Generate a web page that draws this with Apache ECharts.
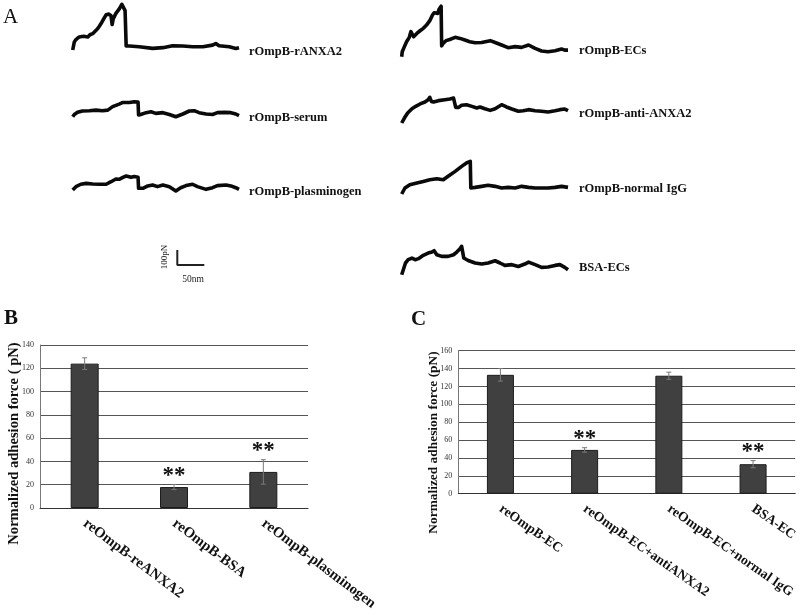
<!DOCTYPE html>
<html>
<head>
<meta charset="utf-8">
<script src="https://cdn.jsdelivr.net/npm/echarts@6/dist/echarts.min.js"></script>
<style>
html,body{margin:0;padding:0;background:#fff;}
#chart{width:800px;height:615px;}
</style>
</head>
<body>
<div id="chart"></div>
<script>
// ---------- Panel A : force curves (x in nm, y in pN) ----------
const traceNames = ['rOmpB-rANXA2','rOmpB-serum','rOmpB-plasminogen','rOmpB-ECs','rOmpB-anti-ANXA2','rOmpB-normal IgG','BSA-ECs'];
const traceRANXA2 = [[0,0],[3,55],[6,71],[12,89],[15,100],[20,93],[23,102],[28,89],[32,104],[37,111],[42,129],[46,144],[49,160],[54,189],[59,222],[62,240],[67,244],[71,233],[73,173],[75,211],[80,249],[83,240],[86,278],[91,311],[94,306],[97,268],[99,27],[105,27],[123,22],[148,11],[167,16],[185,29],[204,27],[222,22],[241,22],[259,33],[265,44],[271,29],[290,22],[302,11],[308,16]];
const traceSerum = [[0,0],[3,15],[9,29],[18,38],[31,40],[43,44],[55,40],[65,44],[74,67],[86,84],[93,95],[105,95],[114,100],[121,98],[122,11],[126,15],[136,27],[145,33],[154,22],[167,27],[179,15],[191,0],[204,18],[216,38],[225,40],[234,27],[247,18],[259,15],[268,27],[281,29],[293,27],[302,18],[308,7]];
const tracePlasminogen = [[0,7],[6,29],[15,45],[25,51],[37,47],[49,45],[62,45],[71,62],[80,80],[86,78],[93,91],[99,100],[108,91],[114,96],[121,91],[122,18],[130,18],[139,34],[148,40],[157,29],[167,40],[179,29],[191,0],[200,22],[210,36],[222,45],[231,29],[247,11],[259,22],[268,36],[284,40],[293,34],[302,22],[308,11]];
const traceECs = [[0,0],[1,33],[5,67],[9,100],[14,129],[17,167],[20,173],[22,133],[28,155],[34,173],[40,189],[46,211],[52,240],[57,278],[60,293],[63,306],[67,289],[69,315],[73,337],[74,72],[77,89],[82,107],[89,115],[99,129],[108,122],[117,111],[126,100],[136,93],[148,95],[164,107],[173,95],[185,78],[197,60],[210,67],[222,62],[235,78],[247,55],[259,38],[271,33],[284,40],[296,51],[302,44],[308,44]];
const traceAntiANXA2 = [[0,0],[5,33],[11,67],[19,95],[26,111],[34,127],[43,140],[49,155],[52,171],[55,144],[59,140],[68,149],[80,155],[89,160],[96,166],[99,164],[100,104],[105,104],[111,118],[120,122],[130,111],[139,100],[145,107],[154,95],[164,84],[173,95],[185,122],[194,107],[204,93],[216,78],[225,82],[235,89],[247,82],[259,78],[271,73],[284,82],[293,89],[302,93],[308,82]];
const traceNormalIgG = [[0,0],[6,40],[15,62],[28,73],[40,84],[52,95],[65,102],[77,95],[86,118],[99,151],[111,184],[120,207],[127,218],[128,40],[136,44],[148,51],[160,58],[173,51],[185,40],[197,44],[210,40],[222,51],[235,44],[247,40],[259,40],[271,40],[284,44],[296,51],[308,44]];
const traceBSAECs = [[0,0],[3,33],[7,78],[12,100],[19,111],[25,100],[31,107],[40,129],[49,144],[56,151],[60,160],[65,133],[74,122],[86,122],[96,133],[102,151],[108,173],[111,189],[113,178],[115,111],[123,95],[136,78],[148,71],[160,78],[173,93],[182,78],[191,62],[204,67],[216,55],[228,71],[235,84],[247,67],[259,49],[271,51],[284,62],[293,67],[302,49],[308,33]];
const scaleBar = [[0,100],[0,0],[50,0]]; // 100 pN / 50 nm
const scaleLabels = ['100pN','50nm'];

// ---------- Panel B ----------
const catB = ['reOmpB-reANXA2','reOmpB-BSA','reOmpB-plasminogen'];
const valB = [124, 18, 31];
const errB = [5, 2.2, 10.5];
const sigB = ['', '**', '**'];
const titleB = 'Normalized adhesion force ( pN)';

// ---------- Panel C ----------
const catC = ['reOmpB-EC','reOmpB-EC+antiANXA2','reOmpB-EC+normal IgG','BSA-EC'];
const valC = [133, 49, 132, 33];
const errC = [7, 2.5, 4, 4];
const sigC = ['', '**', '', '**'];
const titleC = 'Normalized adhesion force (pN)';

// ---------- layout ----------
const SERIF = '"Liberation Serif","DejaVu Serif",serif';
const PX_PER_NM = 0.54, PX_PER_PN = 0.15, XMAX = 310, YMAX = 340;
const traceData = [traceRANXA2, traceSerum, tracePlasminogen, traceECs, traceAntiANXA2, traceNormalIgG, traceBSAECs];
const traceLayout = [
  {left:72.7, base:50,    labelX:249, labelY:51.5},
  {left:72.7, base:116.7, labelX:249, labelY:118},
  {left:72.7, base:191,   labelX:249, labelY:192},
  {left:401.7, base:56.7, labelX:579, labelY:50.5},
  {left:401.7, base:123,  labelX:579, labelY:113.5},
  {left:401.7, base:194,  labelX:579, labelY:189},
  {left:401.7, base:274.7,labelX:579, labelY:267.5}
];

const grids = [], xAxes = [], yAxes = [], series = [], graphics = [];
traceLayout.forEach((L, i) => {
  grids.push({left:L.left, top:L.base - YMAX*PX_PER_PN, width:XMAX*PX_PER_NM, height:YMAX*PX_PER_PN});
  xAxes.push({type:'value', gridIndex:i, min:0, max:XMAX, show:false});
  yAxes.push({type:'value', gridIndex:i, min:0, max:YMAX, show:false});
  series.push({type:'line', name:traceNames[i], xAxisIndex:i, yAxisIndex:i, data:traceData[i],
    showSymbol:false, clip:false, lineStyle:{color:'#0a0a0a', width:3.6, join:'round'}});
  graphics.push({type:'text', x:L.labelX, y:L.labelY, style:{text:traceNames[i], font:'bold 12.5px '+SERIF, fill:'#111', textVerticalAlign:'middle'}});
});
// scale bar grid
const sbIdx = grids.length;
grids.push({left:177.3, top:250, width:50*PX_PER_NM, height:100*PX_PER_PN});
xAxes.push({type:'value', gridIndex:sbIdx, min:0, max:50, show:false});
yAxes.push({type:'value', gridIndex:sbIdx, min:0, max:100, show:false});
series.push({type:'line', xAxisIndex:sbIdx, yAxisIndex:sbIdx, data:scaleBar, showSymbol:false, clip:false, lineStyle:{color:'#222', width:2}});
graphics.push({type:'text', x:165, y:257, rotation:Math.PI/2, style:{text:scaleLabels[0], font:'9px '+SERIF, fill:'#222', textAlign:'center', textVerticalAlign:'middle'}});
graphics.push({type:'text', x:193, y:279, style:{text:scaleLabels[1], font:'9.5px '+SERIF, fill:'#222', textAlign:'center', textVerticalAlign:'middle'}});

// panel letters
graphics.push({type:'text', x:3, y:17, style:{text:'A', font:'21px '+SERIF, fill:'#111', textVerticalAlign:'middle'}});
graphics.push({type:'text', x:4, y:319, style:{text:'B', font:'bold 21px '+SERIF, fill:'#111', textVerticalAlign:'middle'}});
graphics.push({type:'text', x:411, y:320, style:{text:'C', font:'bold 21px '+SERIF, fill:'#111', textVerticalAlign:'middle'}});
// y-axis titles
graphics.push({type:'text', x:14, y:443.5, rotation:Math.PI/2, style:{text:titleB, font:'bold 14.6px '+SERIF, fill:'#111', textAlign:'center', textVerticalAlign:'middle'}});
graphics.push({type:'text', x:434, y:442.5, rotation:Math.PI/2, style:{text:titleC, font:'bold 13.4px '+SERIF, fill:'#111', textAlign:'center', textVerticalAlign:'middle'}});

function barPanel(idx, grid, cats, vals, errs, sigs, ymax, labelFont, rotate, barW) {
  grids.push(grid);
  xAxes.push({type:'category', gridIndex:idx, data:cats,
    axisLine:{show:true, lineStyle:{color:'#333', width:1}}, axisTick:{show:false},
    axisLabel:{interval:0, rotate:rotate, margin:14, color:'#111', fontFamily:SERIF, fontWeight:'bold', fontSize:labelFont}});
  yAxes.push({type:'value', gridIndex:idx, min:0, max:ymax, interval:20,
    axisLine:{show:true, lineStyle:{color:'#777'}}, axisTick:{show:false},
    axisLabel:{fontFamily:SERIF, fontSize:8, color:'#333', margin:6},
    splitLine:{show:true, lineStyle:{color:'#555', width:1}}});
  series.push({type:'bar', xAxisIndex:idx, yAxisIndex:idx, data:vals, barWidth:barW,
    itemStyle:{color:'#404040', borderColor:'#1c1c1c', borderWidth:1}});
  series.push({type:'custom', xAxisIndex:idx, yAxisIndex:idx, z:5,
    data: vals.map((v,i)=>[i, v, errs[i]]),
    renderItem:function(params, api){
      const i = api.value(0), v = api.value(1), e = api.value(2);
      const t = api.coord([i, v+e]), b = api.coord([i, v-e]);
      const c = 2.5;
      const st = {stroke:'#7a7a7a', lineWidth:1};
      const ch = [
        {type:'line', shape:{x1:t[0], y1:t[1], x2:b[0], y2:b[1]}, style:st},
        {type:'line', shape:{x1:t[0]-c, y1:t[1], x2:t[0]+c, y2:t[1]}, style:st},
        {type:'line', shape:{x1:b[0]-c, y1:b[1], x2:b[0]+c, y2:b[1]}, style:st}
      ];
      const s = sigs[params.dataIndex];
      if (s) ch.push({type:'text', x:t[0], y:t[1]+3, style:{text:s, font:'bold 23px '+SERIF, fill:'#111', textAlign:'center', textVerticalAlign:'bottom'}});
      return {type:'group', children:ch};
    }});
}
barPanel(8, {left:40, top:345, width:268, height:163}, catB, valB, errB, sigB, 140, 14.7, -37, 28);
barPanel(9, {left:458.3, top:350.7, width:340, height:143}, catC, valC, errC, sigC, 160, 13.6, -35, 27);

const chart = echarts.init(document.getElementById('chart'), null, {renderer:'canvas'});
chart.setOption({
  animation:false,
  backgroundColor:'#fff',
  grid:grids, xAxis:xAxes, yAxis:yAxes, series:series, graphic:graphics
});
</script>
</body>
</html>
